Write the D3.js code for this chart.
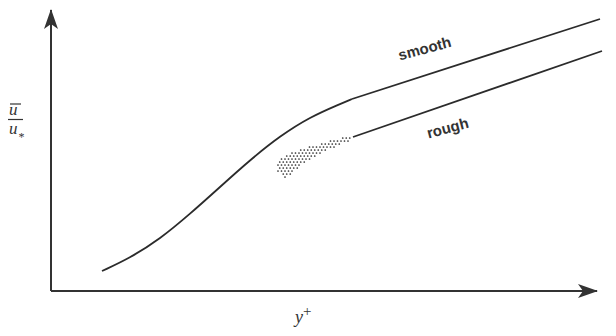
<!DOCTYPE html>
<html>
<head>
<meta charset="utf-8">
<style>
  body { margin: 0; background: #fff; }
  svg { display: block; }
</style>
</head>
<body>
<svg id="chart" width="616" height="336"></svg>

<script src="https://d3js.org/d3.v7.min.js"></script>
<script>
    // velocity profile (arbitrary units)
    var smoothCurve = [[10.2, 4], [15.8, 6.6], [21.8, 10.4], [27.8, 15.4], [33.8, 20.8],
                       [39.8, 26.2], [45.8, 31], [51.8, 34.8], [57.8, 37.4], [60.2, 38.4]]
    var smoothLog = [[60.2, 38.4], [109.8, 54.4]]
    var roughLog = [[60.4, 30.8], [110.2, 48]]
    var roughStipple = [[47.2, 27.4], [50.8, 28.6], [54.8, 29.8], [58.8, 30.9], [61, 31.2],
                        [60, 30.2], [58, 29.4], [54.8, 28], [50.8, 25.8], [47.8, 23.2], [46.6, 22.6],
                        [45.4, 24], [45.4, 25.8]]
    var labels = [{text: "smooth", x: 75, y: 47.5}, {text: "rough", x: 79.6, y: 31.6}]

    var svg = d3.select("#chart")

    var x = d3.scaleLinear().domain([0, 110]).range([51, 601])
    var y = d3.scaleLinear().domain([0, 56]).range([291, 11])

    var defs = svg.append("defs")

    defs.append("marker")
        .attr("id", "arrow")
        .attr("markerUnits", "userSpaceOnUse")
        .attr("markerWidth", 24).attr("markerHeight", 18)
        .attr("viewBox", "-20 -9 24 18")
        .attr("refX", 0).attr("refY", 0)
        .attr("orient", "auto")
      .append("path")
        .attr("d", "M1,0 L-19,-7 L-14,0 L-19,7 Z")
        .attr("fill", "#333")

    // axes
    svg.append("line")
        .attr("x1", x(0)).attr("y1", y(0))
        .attr("x2", x(0)).attr("y2", y.range()[1] - 1)
        .attr("stroke", "#333").attr("stroke-width", 2)
        .attr("marker-end", "url(#arrow)")

    svg.append("line")
        .attr("x1", x(0)).attr("y1", y(0))
        .attr("x2", x.range()[1] - 4).attr("y2", y(0))
        .attr("stroke", "#333").attr("stroke-width", 2)
        .attr("marker-end", "url(#arrow)")

    var line = d3.line()
        .x(function(d) { return x(d[0]) })
        .y(function(d) { return y(d[1]) })

    // stippled transition zone: regular dot grid kept inside the outline
    var outline = roughStipple.map(function(d) { return [x(d[0]), y(d[1])] })
    var xs = d3.extent(outline, function(p) { return p[0] })
    var ys = d3.extent(outline, function(p) { return p[1] })
    var dots = []
    d3.range(ys[0], ys[1] + 1, 3).forEach(function(py, row) {
        d3.range(xs[0] + (row % 2) * 1.75, xs[1] + 1, 3.5).forEach(function(px) {
            if (d3.polygonContains(outline, [px, py])) dots.push([px, py])
        })
    })
    svg.append("g").selectAll("circle")
      .data(dots)
      .enter().append("circle")
        .attr("cx", function(d) { return d[0] })
        .attr("cy", function(d) { return d[1] })
        .attr("r", 0.85)
        .attr("fill", "#2b2b2b")

    svg.append("path")
        .datum(smoothCurve)
        .attr("d", line.curve(d3.curveBasis))
        .attr("fill", "none")
        .attr("stroke", "#2b2b2b").attr("stroke-width", 1.8)

    line.curve(d3.curveLinear)
    ;[smoothLog, roughLog].forEach(function(seg) {
        svg.append("path")
            .datum(seg)
            .attr("d", line)
            .attr("fill", "none")
            .attr("stroke", "#2b2b2b").attr("stroke-width", 1.8)
    })

    svg.selectAll(".lbl")
      .data(labels)
      .enter().append("text")
        .attr("class", "lbl")
        .attr("transform", function(d) { return "translate(" + x(d.x) + "," + y(d.y) + ") rotate(-15)" })
        .attr("text-anchor", "middle")
        .attr("font-family", "Liberation Sans, Arial, sans-serif")
        .attr("font-weight", "bold")
        .attr("font-size", 15)
        .attr("fill", "#333")
        .text(function(d) { return d.text })

    // axis titles
    var serif = "Liberation Serif, Times New Roman, serif"
    var ylab = svg.append("g").attr("fill", "#333").attr("font-family", serif)
        .attr("font-style", "italic").attr("font-size", 17)
    ylab.append("text").attr("x", 9).attr("y", 115).text("u")
    ylab.append("line").attr("x1", 10).attr("x2", 21).attr("y1", 104).attr("y2", 104)
        .attr("stroke", "#333").attr("stroke-width", 1.2)
    ylab.append("line").attr("x1", 8).attr("x2", 23).attr("y1", 119.5).attr("y2", 119.5)
        .attr("stroke", "#333").attr("stroke-width", 1.2)
    ylab.append("text").attr("x", 9).attr("y", 134).text("u")
    ylab.append("text").attr("x", 18.5).attr("y", 141).attr("font-size", 12).attr("font-style", "normal").text("*")

    var xlab = svg.append("text").attr("x", 295).attr("y", 323)
        .attr("fill", "#333").attr("font-family", serif).attr("font-size", 18)
    xlab.append("tspan").attr("font-style", "italic").text("y")
    xlab.append("tspan").attr("dy", -7).attr("font-size", 15).text("+")
</script>
</body>
</html>
